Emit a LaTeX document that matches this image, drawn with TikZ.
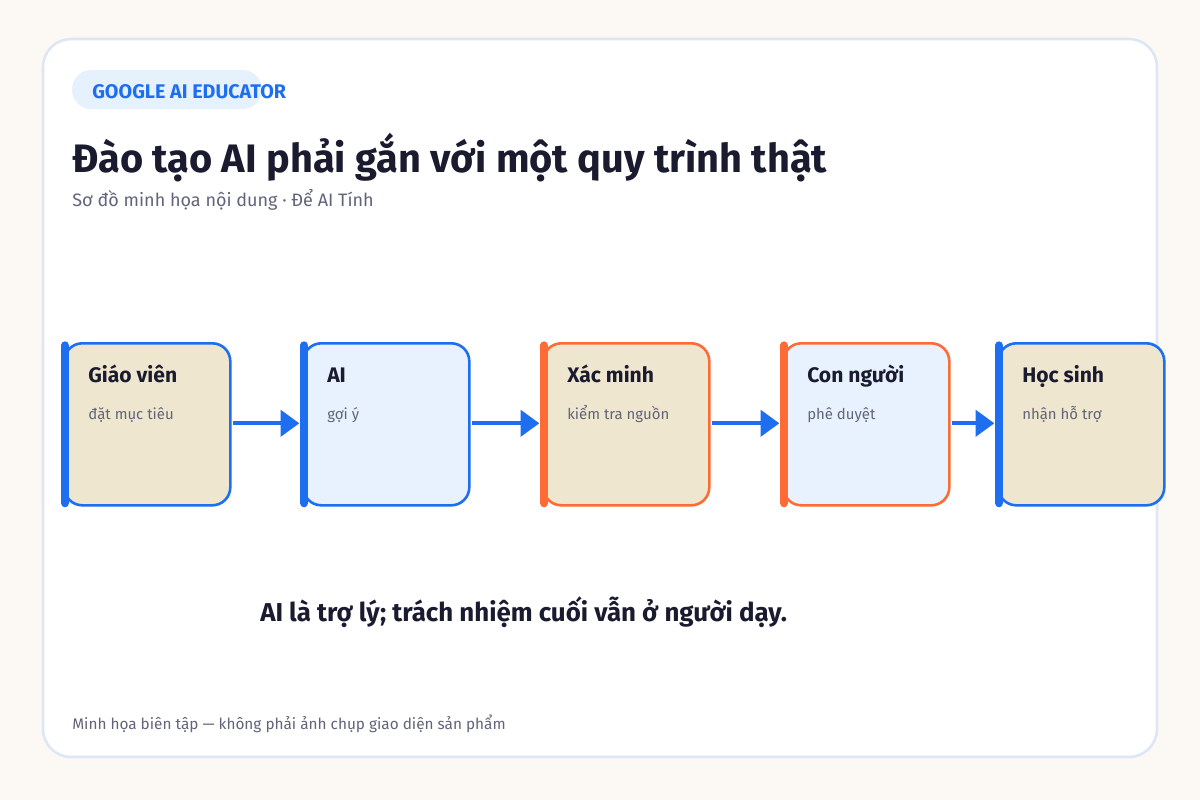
\documentclass[tikz,border=0pt]{standalone}
\usepackage{fontspec}
\setmainfont{Fira Sans}
\usetikzlibrary{arrows.meta,positioning}
\definecolor{bgcream}{HTML}{FCF9F4}
\definecolor{panelline}{HTML}{DCE6F4}
\definecolor{accblue}{HTML}{1E6EF0}
\definecolor{accorange}{HTML}{FF6B35}
\definecolor{fillbeige}{HTML}{EEE6CE}
\definecolor{fillsky}{HTML}{E8F2FE}
\definecolor{badgefill}{HTML}{E6F1FE}
\definecolor{inkdark}{HTML}{1B1B2F}
\definecolor{inkgrey}{HTML}{61647A}
\begin{document}
\begin{tikzpicture}[x=0.75pt, y=-0.75pt,
		txt/.style={anchor=base west, inner sep=0pt},
		stepbox/.style={draw=#1, line width=1.95pt, rounded corners=13.5pt, minimum width=124.5pt, minimum height=121.5pt, inner sep=0pt, anchor=north west},
		flow/.style={accblue, line width=3pt, -{Triangle[length=14pt, width=19.5pt]}}]
		% background and panel
		\fill[bgcream] (0,0) rectangle (1200,800);
		\draw[panelline, fill=white, line width=1.9pt, rounded corners=21pt] (43,39) rectangle (1157,757);
		% badge
		\fill[badgefill, rounded corners=14.5pt] (72,70) rectangle (262,109);
		\node[txt, text=accblue, font=\fontsize{14.8pt}{17pt}\selectfont\bfseries] (badge) at (92,98) {GOOGLE AI EDUCATOR};
		% heading
		\node[txt, text=inkdark, font=\fontsize{29.8pt}{34pt}\selectfont\bfseries] (title) at (72,172) {Đào tạo AI phải gắn với một quy trình thật};
		\node[txt, text=inkgrey, font=\fontsize{13.5pt}{16pt}\selectfont] (subtitle) at (72,206) {Sơ đồ minh họa nội dung · Để AI Tính};
		% steps
		\foreach \x/\c/\f/\t/\s [count=\p] in {62/accblue/fillbeige/Giáo viên/đặt mục tiêu,
			301/accblue/fillsky/AI/gợi ý,
			541/accorange/fillbeige/Xác minh/kiểm tra nguồn,
			781/accorange/fillsky/Con người/phê duyệt,
			996/accblue/fillbeige/Học sinh/nhận hỗ trợ} {
			\node[stepbox=\c, fill=\f] (n\p) at (\x+1,342) {};
			\draw[\c, line width=6pt, line cap=round] ([xshift=1.5pt,yshift=-2.5pt]n\p.north west) -- ([xshift=1.5pt,yshift=2.5pt]n\p.south west);
			\node[txt, text=inkdark, font=\fontsize{15.8pt}{18pt}\selectfont\bfseries] (t\p) at (\x+26,382) {\t};
			\node[txt, text=inkgrey, font=\fontsize{11.2pt}{13pt}\selectfont] (s\p) at (\x+26,419) {\s};
		}
		% connectors
		\foreach \a/\b in {1/2,2/3,3/4,4/5}
			\draw[flow] ([xshift=1pt,yshift=0.75pt]n\a.east) -- ([xshift=-2pt,yshift=0.75pt]n\b.west);
		% caption and footer
		\node[txt, text=inkdark, font=\fontsize{19.4pt}{23pt}\selectfont\bfseries] (caption) at (260,621) {AI là trợ lý; trách nhiệm cuối vẫn ở người dạy.};
		\node[txt, text=inkgrey, font=\fontsize{11.5pt}{14pt}\selectfont] (footer) at (72,729) {Minh họa biên tập — không phải ảnh chụp giao diện sản phẩm};
\end{tikzpicture}
\end{document}
